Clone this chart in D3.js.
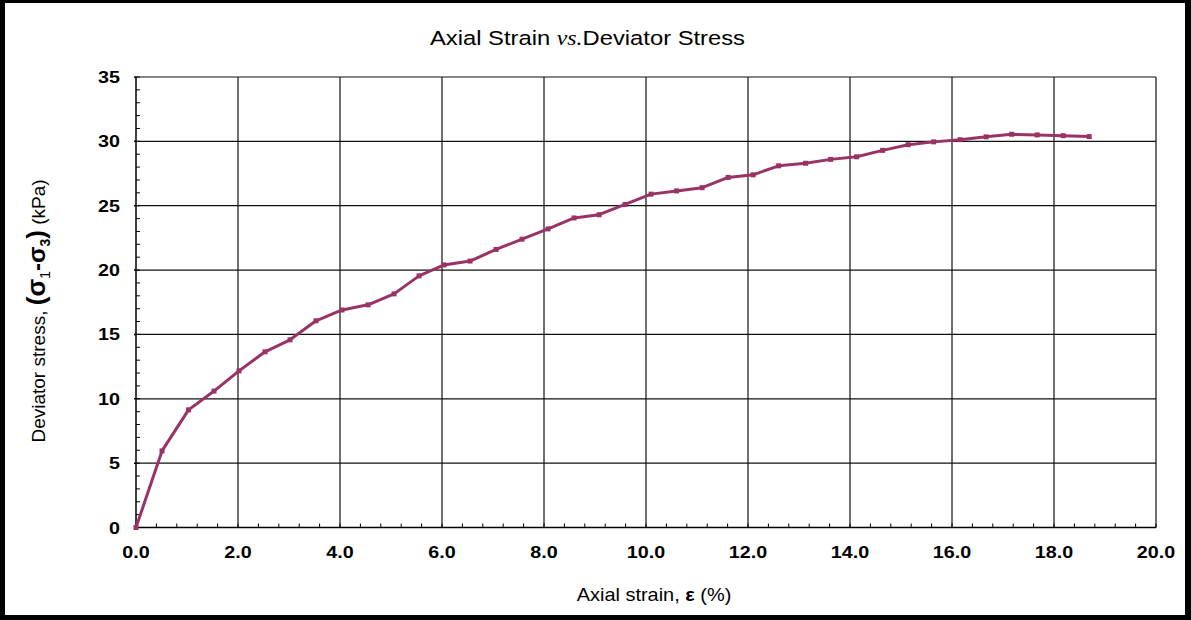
<!DOCTYPE html>
<html>
<head>
<meta charset="utf-8">
<script src="https://cdn.jsdelivr.net/npm/d3@7"></script>
<style>
  html, body { margin: 0; padding: 0; background: #fff; }
  svg { display: block; }
</style>
</head>
<body>
<svg id="chart" width="1191" height="620"></svg>
<script>
// Triaxial test: axial strain (%) against deviator stress (kPa)
const strain = [0.0, 0.51, 1.03, 1.53, 2.02, 2.53, 3.02, 3.53, 4.04, 4.55, 5.06, 5.55, 6.04, 6.55,
  7.06, 7.57, 8.08, 8.59, 9.08, 9.59, 10.10, 10.60, 11.10, 11.61, 12.10, 12.60, 13.13, 13.62,
  14.13, 14.64, 15.14, 15.64, 16.16, 16.67, 17.17, 17.67, 18.18, 18.69];
const stress = [0.0, 5.95, 9.14, 10.6, 12.17, 13.65, 14.58, 16.06, 16.9, 17.3, 18.15, 19.55, 20.4, 20.7,
  21.6, 22.4, 23.2, 24.05, 24.3, 25.1, 25.9, 26.15, 26.4, 27.2, 27.4, 28.1, 28.3, 28.6,
  28.8, 29.3, 29.74, 29.96, 30.13, 30.35, 30.55, 30.5, 30.44, 30.37];
const xTicks = [0, 2, 4, 6, 8, 10, 12, 14, 16, 18, 20];
const yTicks = [0, 5, 10, 15, 20, 25, 30, 35];

const svg = d3.select("#chart");
const W = 1191, H = 620;
const plot = { left: 136, right: 1156, top: 77, bottom: 527.5 };
const FONT = "'Liberation Sans', Arial, sans-serif";
const LINE = "#993366";
const STRETCH = 1.16; // labels are drawn slightly wide

// Frame
svg.append("rect").attr("x", 0).attr("y", 0).attr("width", W).attr("height", H).attr("fill", "#000");
svg.append("rect").attr("x", 5).attr("y", 3).attr("width", W - 11).attr("height", H - 8).attr("fill", "#fff");

const x = d3.scaleLinear().domain([0, 20]).range([plot.left, plot.right]);
const y = d3.scaleLinear().domain([0, 35]).range([plot.bottom, plot.top]);

// Grid
const grid = svg.append("g");
grid.selectAll(".vg").data(xTicks.slice(1)).join("line")
  .attr("x1", d => x(d)).attr("x2", d => x(d))
  .attr("y1", plot.top).attr("y2", plot.bottom)
  .attr("stroke", "#111").attr("stroke-width", 1.2);
grid.selectAll(".hg").data(yTicks.slice(1)).join("line")
  .attr("x1", plot.left).attr("x2", plot.right)
  .attr("y1", d => y(d)).attr("y2", d => y(d))
  .attr("stroke", "#111").attr("stroke-width", 1.2);

// Axes with inward minor ticks
const xMinor = d3.range(0, 20.001, 0.4);
const yMinor = d3.range(0, 35.001, 1);
const axisG = svg.append("g");
axisG.selectAll(".xm").data(xMinor).join("line")
  .attr("x1", d => x(d)).attr("x2", d => x(d))
  .attr("y1", plot.bottom).attr("y2", plot.bottom - 4)
  .attr("stroke", "#000").attr("stroke-width", 1);
axisG.selectAll(".ym").data(yMinor).join("line")
  .attr("x1", plot.left).attr("x2", plot.left + 4)
  .attr("y1", d => y(d)).attr("y2", d => y(d))
  .attr("stroke", "#000").attr("stroke-width", 1);
axisG.selectAll(".yM").data(yTicks).join("line")
  .attr("x1", plot.left - 2).attr("x2", plot.left)
  .attr("y1", d => y(d)).attr("y2", d => y(d))
  .attr("stroke", "#000").attr("stroke-width", 1.5);
axisG.append("line").attr("x1", plot.left).attr("x2", plot.left)
  .attr("y1", plot.top).attr("y2", plot.bottom).attr("stroke", "#000").attr("stroke-width", 1.5);
axisG.append("line").attr("x1", plot.left).attr("x2", plot.right)
  .attr("y1", plot.bottom).attr("y2", plot.bottom).attr("stroke", "#000").attr("stroke-width", 1.5);

// Tick labels
svg.append("g").selectAll("text").data(xTicks).join("text")
  .attr("transform", d => `translate(${x(d)},558) scale(${STRETCH},1)`)
  .attr("text-anchor", "middle")
  .attr("font-family", FONT).attr("font-size", 17).attr("font-weight", "bold")
  .text(d => d3.format(".1f")(d));
svg.append("g").selectAll("text").data(yTicks).join("text")
  .attr("transform", d => `translate(120,${y(d) + 6}) scale(${STRETCH},1)`)
  .attr("text-anchor", "end")
  .attr("font-family", FONT).attr("font-size", 17).attr("font-weight", "bold")
  .text(d => d);

// Curve
svg.append("path")
  .datum(strain.map((s, i) => [s, stress[i]]))
  .attr("fill", "none").attr("stroke", LINE).attr("stroke-width", 3)
  .attr("stroke-linejoin", "round")
  .attr("d", d3.line().x(d => x(d[0])).y(d => y(d[1])));
svg.append("g").selectAll("rect").data(strain).join("rect")
  .attr("x", (d) => x(d) - 2.5).attr("y", (d, i) => y(stress[i]) - 2.5)
  .attr("width", 5).attr("height", 5).attr("fill", LINE);

// Title
const title = svg.append("text").attr("transform", `translate(587.5,45) scale(${STRETCH},1)`)
  .attr("text-anchor", "middle").attr("font-family", FONT).attr("font-size", 20.5).attr("fill", "#000");
title.append("tspan").text("Axial Strain ");
title.append("tspan").attr("font-family", "'Liberation Serif', 'Times New Roman', serif")
  .attr("font-style", "italic").text("vs.");
title.append("tspan").text("Deviator Stress");

// X axis title
const xt = svg.append("text").attr("transform", `translate(654,601) scale(1.05,1)`)
  .attr("text-anchor", "middle").attr("font-family", FONT).attr("font-size", 19);
xt.append("tspan").text("Axial strain, ");
xt.append("tspan").attr("font-weight", "bold").text("ε");
xt.append("tspan").text(" (%)");

// Y axis title
const yt = svg.append("text")
  .attr("transform", "translate(45,311) rotate(-90)")
  .attr("text-anchor", "middle").attr("font-family", FONT).attr("font-size", 19);
yt.append("tspan").text("Deviator stress, ");
yt.append("tspan").attr("font-weight", "bold").attr("font-size", 26).text("(σ");
yt.append("tspan").attr("font-size", 14).attr("dy", 5).text("1");
yt.append("tspan").attr("font-weight", "bold").attr("font-size", 24).attr("dy", -5).text("-σ");
yt.append("tspan").attr("font-weight", "bold").attr("font-size", 14).attr("dy", 5).text("3");
yt.append("tspan").attr("font-weight", "bold").attr("font-size", 26).attr("dy", -5).text(")");
yt.append("tspan").text(" (kPa)");
</script>
</body>
</html>
